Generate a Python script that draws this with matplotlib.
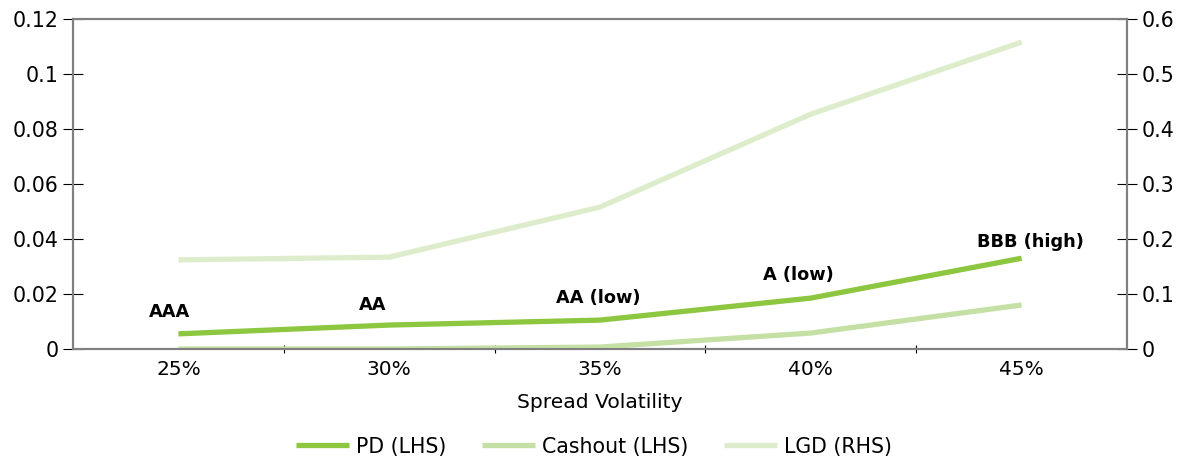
import matplotlib.pyplot as plt
import numpy as np

# spread volatility scenarios
volatility = ['25%', '30%', '35%', '40%', '45%']
pd_lhs = [0.0055, 0.0087, 0.0105, 0.0185, 0.033]
cashout_lhs = [0.0, 0.0, 0.0007, 0.0058, 0.016]
lgd_rhs = [0.162, 0.167, 0.258, 0.427, 0.558]
ratings = ['AAA', 'AA', 'AA (low)', 'A (low)', 'BBB (high)']

c_pd = '#8dc63f'
c_cash = '#c5e0a5'
c_lgd = '#ddedcc'
grey = '#808080'

plt.rcParams['font.family'] = 'DejaVu Sans'

fig = plt.figure(figsize=(11.81, 4.59), dpi=100)
ax = fig.add_axes([0.0618, 0.2397, 0.8925, 0.7189])
ax2 = ax.twinx()

x = np.arange(len(volatility))
l_lgd, = ax2.plot(x, lgd_rhs, color=c_lgd, lw=3.8, solid_capstyle='butt', label='LGD (RHS)')
l_cash, = ax.plot(x, cashout_lhs, color=c_cash, lw=3.8, solid_capstyle='butt', label='Cashout (LHS)')
l_pd, = ax.plot(x, pd_lhs, color=c_pd, lw=3.8, solid_capstyle='butt', label='PD (LHS)')
ax.set_zorder(ax2.get_zorder() + 1)
ax.patch.set_visible(False)

# rating labels above the PD line
offsets = [(-0.04, 0.0135), (-0.08, 0.016), (-0.01, 0.0185), (-0.06, 0.027), (0.04, 0.039)]
for i, (r, (dx, yy)) in enumerate(zip(ratings, offsets)):
    ax.text(i + dx, yy, r, ha='center', va='center', fontsize=12.8, fontweight='bold')

ax.set_xlim(-0.5, 4.5)
ax.set_ylim(0, 0.12)
ax2.set_ylim(0, 0.6)
ax.set_yticks(np.arange(0, 0.121, 0.02))
ax.set_yticklabels(['0', '0.02', '0.04', '0.06', '0.08', '0.1', '0.12'])
ax2.set_yticks(np.arange(0, 0.61, 0.1))
ax2.set_yticklabels(['0', '0.1', '0.2', '0.3', '0.4', '0.5', '0.6'])

ax.set_xticks(x)
ax.set_xticklabels(volatility)
ax.set_xticks(np.arange(0.5, 4.0, 1), minor=True)
ax.tick_params(axis='x', which='major', length=0, labelsize=14.5, pad=8)
ax.tick_params(axis='x', which='minor', direction='inout', length=6, color='black', width=0.8)
ax.tick_params(axis='y', direction='inout', length=15, color='black', width=0.8, labelsize=14.8, pad=3)
ax2.tick_params(axis='y', direction='inout', length=15, color='black', width=0.8, labelsize=14.8, pad=3)

for a in (ax, ax2):
    for s in a.spines.values():
        s.set_color(grey)
        s.set_linewidth(1.5)

ax.set_xlabel('Spread Volatility', fontsize=14.6, labelpad=10)

fig.legend(handles=[l_pd, l_cash, l_lgd], loc='center', bbox_to_anchor=(0.503, 0.027),
           ncol=3, frameon=False, fontsize=14.8, handlelength=2.6, columnspacing=1.7,
           handletextpad=0.35)

fig.savefig('out.png', dpi=100)
